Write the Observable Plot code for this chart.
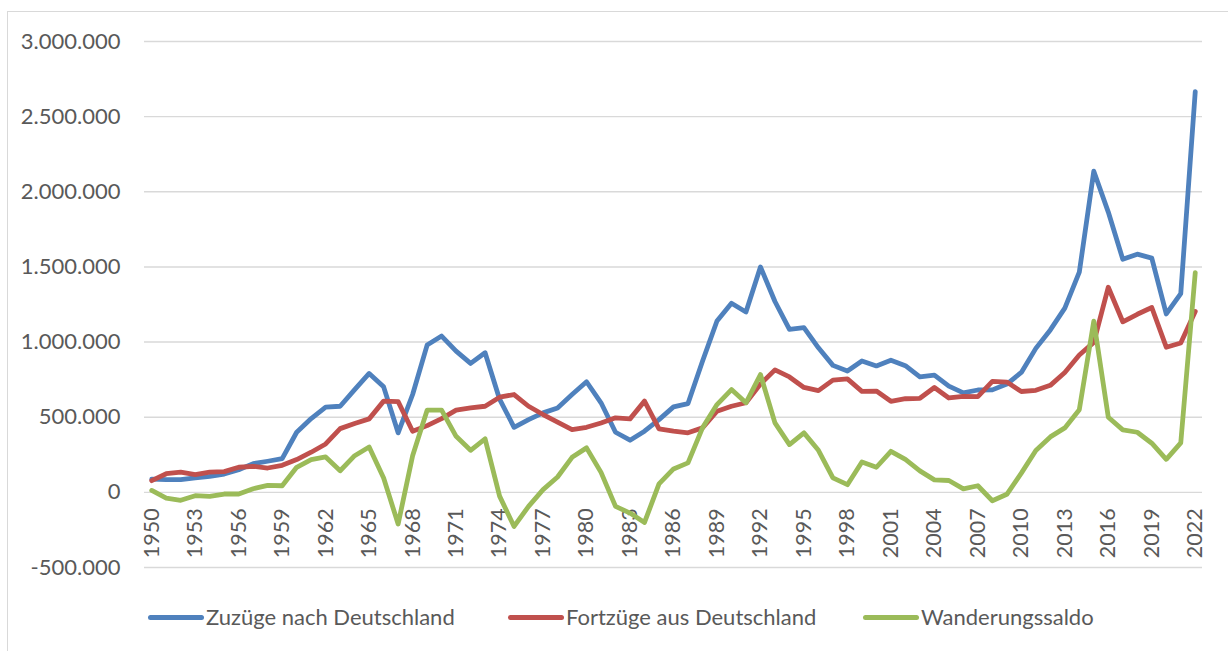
<!DOCTYPE html>
<html>
<head>
<meta charset="utf-8">
<script src="https://cdn.jsdelivr.net/npm/d3@7"></script>
<script src="https://cdn.jsdelivr.net/npm/@observablehq/plot@0.6"></script>
<style>
  html, body { margin: 0; padding: 0; background: #fff; width: 1228px; height: 651px; overflow: hidden; }
  #frame { position: absolute; left: 7px; top: 11px; width: 1400px; height: 800px;
           border-left: 1.3px solid #d9d9d9; border-top: 1.3px solid #d9d9d9; }
  #chart { position: absolute; left: 0; top: 0; }
  #legend { position: absolute; left: 0; top: 600px; width: 1228px; height: 51px;
            font-family: Lato, "Open Sans", sans-serif; font-size: 22px; color: #595959; }
  .item { position: absolute; top: 0; height: 51px; }
  .sw { position: absolute; top: 15px; width: 56px; height: 5px; border-radius: 3px; }
  .lbl { position: absolute; top: 3px; white-space: nowrap; line-height: 27px; }
</style>
</head>
<body>
<div id="frame"></div>
<div id="chart"></div>
<div id="legend"></div>
<script>
const years = [1950,1951,1952,1953,1954,1955,1956,1957,1958,1959,
  1960,1961,1962,1963,1964,1965,1966,1967,1968,1969,
  1970,1971,1972,1973,1974,1975,1976,1977,1978,1979,
  1980,1981,1982,1983,1984,1985,1986,1987,1988,1989,
  1990,1991,1992,1993,1994,1995,1996,1997,1998,1999,
  2000,2001,2002,2003,2004,2005,2006,2007,2008,2009,
  2010,2011,2012,2013,2014,2015,2016,2017,2018,2019,
  2020,2021,2022];

const zuzuege = [88000,85000,85000,96000,107000,122000,151000,191000,207000,224000,
  400000,491000,567000,573000,684000,791000,702000,396000,651000,980000,
  1040000,940000,858000,929000,620000,433000,484000,529000,562000,651000,
  736000,596000,400000,347000,407000,484000,569000,591000,873000,1140000,
  1258000,1200000,1500000,1270000,1085000,1096000,962000,845000,807000,874000,
  841000,879000,843000,769000,780000,707000,662000,681000,682000,721000,
  798000,958000,1081000,1226000,1465000,2137000,1865000,1551000,1585000,1559000,
  1187000,1323000,2666000];

const fortzuege = [78000,124000,135000,118000,135000,138000,167000,173000,162000,180000,
  218000,267000,322000,424000,458000,489000,607000,604000,407000,444000,
  491000,547000,562000,573000,633000,651000,573000,518000,467000,418000,
  433000,462000,496000,489000,607000,422000,407000,396000,429000,540000,
  573000,596000,720000,815000,768000,698000,677000,747000,755000,672000,
  674000,606000,623000,626000,698000,628000,639000,637000,738000,734000,
  671000,679000,712000,798000,914000,998000,1365000,1135000,1185000,1230000,
  966000,994000,1204000];

const saldo = [13000,-38000,-53000,-22000,-27000,-11000,-11000,24000,47000,44000,
  167000,218000,236000,144000,244000,302000,96000,-211000,244000,547000,
  547000,373000,280000,356000,-25000,-227000,-93000,18000,102000,233000,
  296000,133000,-93000,-138000,-200000,56000,156000,196000,429000,584000,
  684000,596000,784000,462000,318000,396000,280000,96000,51000,202000,
  167000,273000,219000,143000,83000,79000,23000,44000,-56000,-13000,
  128000,279000,369000,429000,550000,1139000,500000,416000,400000,327000,
  220000,329000,1462000];

const seriesNames = ["Zuzüge nach Deutschland", "Fortzüge aus Deutschland", "Wanderungssaldo"];
const seriesColors = ["#4F81BD", "#C0504D", "#9BBB59"];
const yTicks = [-500000, 0, 500000, 1000000, 1500000, 2000000, 2500000, 3000000];
const xTickLabels = [1950,1953,1956,1959,1962,1965,1968,1971,1974,1977,1980,1983,1986,
  1989,1992,1995,1998,2001,2004,2007,2010,2013,2016,2019,2022];

const de = d3.formatLocale({decimal: ",", thousands: ".", grouping: [3], currency: ["", " €"], minus: "-"});
const fmt = de.format(",");

const allSeries = [zuzuege, fortzuege, saldo];
const rows = [];
allSeries.forEach((vals, s) => vals.forEach((v, i) => rows.push({year: years[i], value: v, series: seriesNames[s]})));

const plot = Plot.plot({
  width: 1228,
  height: 600,
  marginLeft: 144,
  marginRight: 26,
  marginTop: 41,
  marginBottom: 33,
  style: {fontFamily: "Lato, 'Open Sans', sans-serif", fontSize: "22px", color: "#595959", background: "transparent"},
  x: {type: "point", domain: years, padding: 0.5, axis: null},
  y: {domain: [-500000, 3000000], axis: null},
  color: {domain: seriesNames, range: seriesColors},
  marks: [
    Plot.gridY(yTicks, {stroke: "#d9d9d9", strokeOpacity: 1, strokeWidth: 1.4}),
    Plot.axisY(yTicks, {tickSize: 0, tickPadding: 24, tickFormat: fmt, fill: "#595959", fontSize: 22, label: null}),
    Plot.text(xTickLabels, {x: d => d, y: () => 0, text: d => String(d), rotate: -90, textAnchor: "end",
      dy: 16, fill: "#595959", fontSize: 21.5}),
    Plot.line(rows, {x: "year", y: "value", z: "series", stroke: "series", strokeWidth: 4.8,
      strokeLinejoin: "round", strokeLinecap: "round"})
  ]
});
document.getElementById("chart").appendChild(plot);

const legendX = [148, 508, 863];
const legend = document.getElementById("legend");
seriesNames.forEach((name, i) => {
  const item = document.createElement("div");
  item.className = "item";
  item.style.left = legendX[i] + "px";
  const sw = document.createElement("div");
  sw.className = "sw";
  sw.style.left = "0px";
  sw.style.background = seriesColors[i];
  const lbl = document.createElement("div");
  lbl.className = "lbl";
  lbl.style.left = "58px";
  lbl.textContent = name;
  item.appendChild(sw);
  item.appendChild(lbl);
  legend.appendChild(item);
});
</script>
</body>
</html>
